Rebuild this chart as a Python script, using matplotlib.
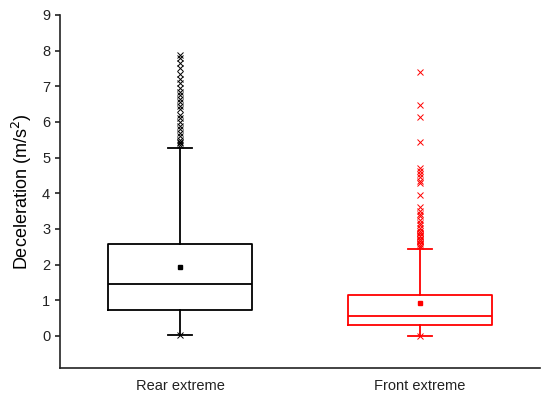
import matplotlib.pyplot as plt

plt.rcParams['font.family'] = ['Liberation Sans', 'DejaVu Sans']

categories = ["Rear extreme", "Front extreme"]
colors = ["black", "red"]

# box statistics
q1 = [0.73, 0.31]
median = [1.46, 0.56]
q3 = [2.58, 1.15]
whis_lo = [0.02, 0.0]
whis_hi = [5.26, 2.44]
means = [1.94, 0.93]

rear_outliers = [7.87, 7.8, 7.65, 7.5, 7.35, 7.2, 7.1, 6.95, 6.85,
                 6.75, 6.65, 6.55, 6.45, 6.35, 6.2, 6.1, 6.0, 5.9,
                 5.8, 5.7, 5.6, 5.5, 5.45, 5.4, 5.35, 0.02]
front_outliers = [7.4, 6.47, 6.15, 5.45, 4.7, 4.62, 4.55, 4.45, 4.35, 4.3,
                  3.95, 3.62, 3.5, 3.42, 3.35, 3.25, 3.18, 3.1, 3.02, 2.95,
                  2.88, 2.8, 2.72, 2.65, 2.58, 2.52, 0.0]
front_circles = [2.92, 2.8, 2.69, 2.58]
outliers = [rear_outliers, front_outliers]

fig = plt.figure(figsize=(5.5, 4.04), dpi=100)
ax = fig.add_axes([0.109, 0.089, 0.873, 0.874])

for i in range(2):
    st = [dict(med=median[i], q1=q1[i], q3=q3[i], whislo=whis_lo[i],
               whishi=whis_hi[i], mean=means[i], fliers=[])]
    c = colors[i]
    ax.bxp(st, positions=[i + 1], widths=0.6, capwidths=0.1, showmeans=True,
           showfliers=False,
           boxprops=dict(color=c, linewidth=1.3),
           medianprops=dict(color=c, linewidth=1.3),
           whiskerprops=dict(color=c, linewidth=1.3),
           capprops=dict(color=c, linewidth=1.3),
           meanprops=dict(marker='s', markerfacecolor=c, markeredgecolor=c,
                          markersize=3.5))
    ax.plot([i + 1] * len(outliers[i]), outliers[i], linestyle='none',
            marker='x', color=c, markersize=5, markeredgewidth=0.7)

ax.plot([2] * len(front_circles), front_circles, linestyle='none', marker='o',
        markerfacecolor='none', markeredgecolor='red', markersize=4,
        markeredgewidth=0.8)

ax.set_xlim(0.5, 2.5)
ax.set_ylim(-0.9, 9)
ax.set_yticks(range(0, 10))
ax.set_xticks([1, 2])
ax.set_xticklabels(categories)
ax.tick_params(axis='both', labelsize=10.5, direction='out', width=1.2,
               colors='#222222')
ax.tick_params(axis='x', length=0, pad=8)
ax.spines['top'].set_visible(False)
ax.spines['right'].set_visible(False)
for s in ('left', 'bottom'):
    ax.spines[s].set_linewidth(1.2)
    ax.spines[s].set_color('#222222')
ax.set_ylabel("Deceleration (m/s$^2$)", fontsize=13, labelpad=6)

fig.savefig("out.png", dpi=100)
